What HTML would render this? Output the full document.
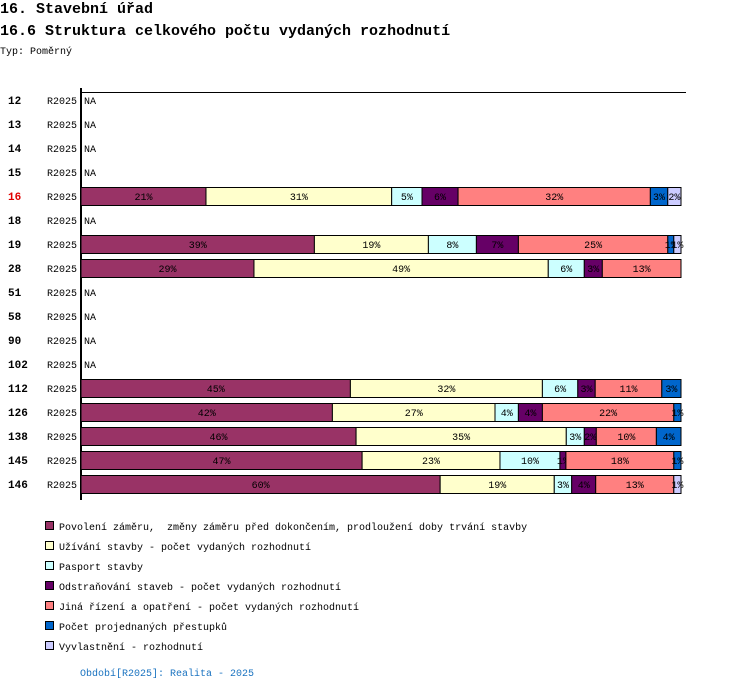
<!DOCTYPE html>
<html><head><meta charset="utf-8"><style>
body{margin:0;background:#fff;width:750px;height:690px;overflow:hidden}
svg{display:block;font-family:"Liberation Mono",monospace}
</style></head><body>
<svg id="c" width="750" height="690">
<text x="0" y="13" font-size="15" font-weight="bold">16. Stavební úřad</text>
<text x="0" y="35" font-size="15" font-weight="bold">16.6 Struktura celkového počtu vydaných rozhodnutí</text>
<text x="0" y="54" font-size="10">Typ: Poměrný</text>
<line x1="81" y1="92.5" x2="686" y2="92.5" stroke="#000"/>
<line x1="81" y1="88" x2="81" y2="500" stroke="#000" stroke-width="2"/>
<text x="80" y="676" font-size="10" fill="#1a73c0">Období[R2025]: Realita - 2025</text>
</svg>
<script>
const categories=["12","13","14","15","16","18","19","28","51","58","90","102","112","126","138","145","146"];
const highlighted=["16"];
const seriesNames=["Povolení záměru,  změny záměru před dokončením, prodloužení doby trvání stavby","Užívání stavby - počet vydaných rozhodnutí","Pasport stavby","Odstraňování staveb - počet vydaných rozhodnutí","Jiná řízení a opatření - počet vydaných rozhodnutí","Počet projednaných přestupků","Vyvlastnění - rozhodnutí"];
const seriesColors=["#993366","#ffffcc","#ccffff","#660066","#ff8080","#0066cc","#ccccff"];
const s1=[null,null,null,null,20.8,null,38.9,28.8,null,null,null,null,44.9,41.9,45.8,46.9,59.8];
const s2=[null,null,null,null,30.9,null,19.0,49.0,null,null,null,null,32.0,27.1,35.0,23.0,19.0];
const s3=[null,null,null,null,5.05,null,8.0,6.0,null,null,null,null,5.9,3.9,3.0,10.0,2.9];
const s4=[null,null,null,null,6.0,null,7.0,3.0,null,null,null,null,2.9,4.0,2.0,1.0,4.0];
const s5=[null,null,null,null,32.0,null,24.9,13.1,null,null,null,null,11.1,21.9,10.0,18.0,13.0];
const s6=[null,null,null,null,2.9,null,1.0,0,null,null,null,null,3.2,1.2,4.1,1.2,0];
const s7=[null,null,null,null,2.2,null,1.2,0,null,null,null,null,0,0,0,0,1.2];
const series=[s1,s2,s3,s4,s5,s6,s7];
const NS="http://www.w3.org/2000/svg";
const svg=document.getElementById('c');
const x0=81,W=600,rowY0=100,rowH=24,barH=18;
const xs=v=>v/100*W;
const ys=i=>rowY0+i*rowH;
function mk(t,a){const e=document.createElementNS(NS,t);for(const k in a)e.setAttribute(k,a[k]);svg.appendChild(e);return e;}
categories.forEach((c,i)=>{
  const y=ys(i);
  const lab=mk('text',{x:8,y:y+4,'font-size':11,'font-weight':'bold',fill:highlighted.includes(c)?'#e00000':'#000'});
  lab.textContent=c;
  
  
  const p=mk('text',{x:47,y:y+4,'font-size':10});
  p.textContent="R2025";
  
  
  if(s1[i]===null){
    const na=mk('text',{x:84,y:y+4,'font-size':10});
    na.textContent="NA";
    
    
    return;
  }
  let total=series.reduce((a,s)=>a+(s[i]||0),0);
  let acc=0;
  series.forEach((s,k)=>{
    const v=s[i]||0; if(v<=0)return;
    const x=x0+xs(acc/total*100), w=xs(v/total*100);
    const r=mk('rect',{x:x,y:y-barH/2+0.5,width:w,height:barH,fill:seriesColors[k],stroke:'#000','stroke-width':1});
    
    
    const t=mk('text',{x:x+w/2,y:y+4,'font-size':10,'text-anchor':'middle'});
    t.textContent=Math.round(v)+"%";
    
    
    acc+=v;
  });
});
seriesNames.forEach((n,k)=>{
  const y=526+k*20;
  const r=mk('rect',{x:45.5,y:y-4.5,width:8,height:8,fill:seriesColors[k],stroke:'#000'});
  
  
  const t=mk('text',{x:59,y:y+4,'font-size':10,style:'white-space:pre'});
  t.textContent=n;
  
  
});
</script>
</body></html>
